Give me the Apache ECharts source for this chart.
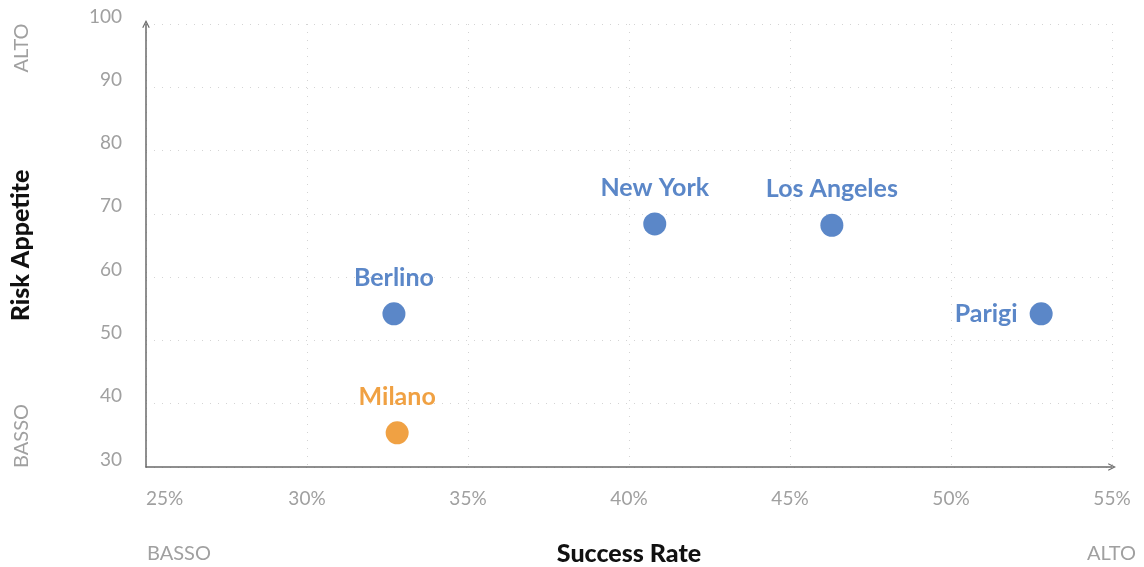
<!DOCTYPE html>
<html>
<head>
<meta charset="utf-8">
<script src="https://cdn.jsdelivr.net/npm/echarts@6/dist/echarts.min.js"></script>
<style>
  html, body { margin: 0; padding: 0; background: #fff; }
  #chart { width: 1144px; height: 567px; }
</style>
</head>
<body>
<div id="chart"></div>
<script>
// città e valori
const cities = ['Berlino', 'Milano', 'New York', 'Los Angeles', 'Parigi']
const successRate = [32.7, 32.8, 40.8, 46.3, 52.8]
const riskAppetite = [54.2, 35.4, 68.4, 68.2, 54.2]
const highlight = ['Milano']
const labelLeft = ['Parigi']

const blue = '#5b87c8'
const orange = '#f0a143'
const tickGrey = '#a0a0a0'
const font = 'Lato, "Noto Sans", sans-serif'

// freccia aperta (chevron) per la fine degli assi
const chevron = 'path://M0,10 L5,0 L10,10 L8.6,10.6 L5,3.2 L1.4,10.6 Z'

const chart = echarts.init(document.getElementById('chart'))

const data = cities.map((name, i) => {
  const isHi = highlight.includes(name)
  const left = labelLeft.includes(name)
  return {
    name,
    value: [successRate[i], riskAppetite[i]],
    itemStyle: { color: isHi ? orange : blue, opacity: 1 },
    label: {
      position: left ? 'left' : 'top',
      distance: left ? 12 : 12,
      color: isHi ? orange : blue
    }
  }
})

const option = {
  animation: false,
  textStyle: { fontFamily: font },
  grid: { left: 146, right: 32, top: 24, bottom: 100, outerBoundsMode: 'none', containLabel: false },
  xAxis: {
    type: 'value',
    min: 25,
    max: 55,
    interval: 5,
    name: 'Success Rate',
    nameLocation: 'middle',
    nameGap: 74,
    nameTextStyle: { fontSize: 25, fontWeight: 900, color: '#111', fontFamily: font },
    axisLine: {
      show: true,
      symbol: ['none', chevron],
      symbolSize: [13, 8],
      lineStyle: { color: '#6a6a6a', width: 1.5 }
    },
    axisTick: { show: false },
    axisLabel: {
      margin: 22,
      fontSize: 19,
      color: tickGrey,
      alignMinLabel: 'left',
      formatter: v => v + '%'
    },
    splitLine: { show: true, lineStyle: { color: '#d4d4d4', type: [1, 7], width: 1 } }
  },
  yAxis: {
    type: 'value',
    min: 30,
    max: 100,
    interval: 10,
    name: 'Risk Appetite',
    nameLocation: 'middle',
    nameGap: 113,
    nameRotate: 90,
    nameTextStyle: { fontSize: 25, fontWeight: 900, color: '#111', fontFamily: font },
    axisLine: {
      show: true,
      symbol: ['none', chevron],
      symbolSize: [13, 8],
      lineStyle: { color: '#6a6a6a', width: 1.5 }
    },
    axisTick: { show: false },
    axisLabel: { margin: 24, fontSize: 19, color: tickGrey, verticalAlign: 'bottom', padding: [0, 0, -2, 0] },
    splitLine: { show: true, lineStyle: { color: '#d4d4d4', type: [1, 7], width: 1 } }
  },
  graphic: [
    { type: 'text', left: 147, top: 544, style: { text: 'BASSO', fill: tickGrey, fontSize: 20, fontFamily: font } },
    { type: 'text', right: 8, top: 544, style: { text: 'ALTO', fill: tickGrey, fontSize: 20, fontFamily: font } },
    { type: 'text', x: 22, y: 48, rotation: Math.PI / 2, style: { text: 'ALTO', fill: tickGrey, fontSize: 20, fontFamily: font, align: 'center', verticalAlign: 'middle' } },
    { type: 'text', x: 22, y: 436, rotation: Math.PI / 2, style: { text: 'BASSO', fill: tickGrey, fontSize: 20, fontFamily: font, align: 'center', verticalAlign: 'middle' } }
  ],
  series: [{
    type: 'scatter',
    symbolSize: 23,
    data,
    label: {
      show: true,
      formatter: '{b}',
      fontSize: 25,
      fontWeight: 'bold',
      fontFamily: font
    }
  }]
}

chart.setOption(option)
window.addEventListener('resize', () => chart.resize())
</script>
</body>
</html>
